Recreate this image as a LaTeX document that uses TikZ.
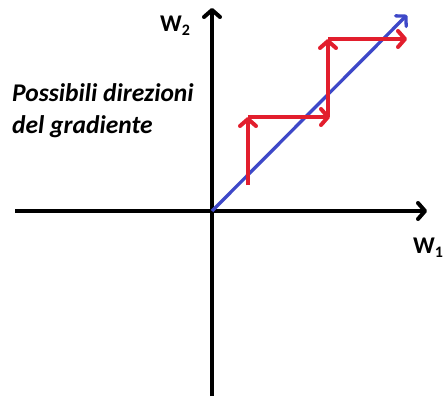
\documentclass[tikz,border=0pt]{standalone}
\usepackage{fontspec}
\setmainfont{Carlito}
\usetikzlibrary{arrows.meta}
\definecolor{stepred}{RGB}{226,30,45}
\definecolor{diagblue}{RGB}{62,72,200}
\tikzset{
    axisline/.style={line width=4pt, black, -{Straight Barb[length=7pt, width=16pt, round]}},
    stepline/.style={line width=4pt, stepred, -{Straight Barb[length=7pt, width=16pt, round]}},
    diagline/.style={line width=3.3pt, diagblue, -{Straight Barb[length=7pt, width=15pt, round]}},
    axislabel/.style={font=\bfseries\fontsize{24}{26}\selectfont, inner sep=0pt, anchor=base west},
    notelabel/.style={align=left, font=\bfseries\itshape\fontsize{25.5}{32}\selectfont, inner sep=0pt, anchor=base west}
}
\newcommand{\wlab}[1]{W\raisebox{-0.35ex}{\fontsize{16}{17}\selectfont #1}}
\begin{document}
\begin{tikzpicture}[x=1pt, y=-1pt]
            \useasboundingbox (0,0) rectangle (443,399);
            % axes
            \coordinate (O) at (212,211);
            \coordinate (xl) at (15,211);
            \coordinate (xr) at (427,211);
            \coordinate (yb) at (212,396);
            \coordinate (yt) at (212,8);
            \draw[axisline] (xl) -- (xr);
            \draw[axisline] (yb) -- (yt);
            \node[axislabel] (w1) at (413,253) {\wlab{1}};
            \node[axislabel] (w2) at (160,31) {\wlab{2}};

            % blue diagonal
            \coordinate (d) at (407,15);
            \draw[diagline] (O) -- (d);

            % red steps
            \coordinate (r0) at (248,185);
            \coordinate (r1) at (248,117);
            \coordinate (r2) at (330,117);
            \coordinate (r3) at (328,117);
            \coordinate (r4) at (328,39);
            \coordinate (r5) at (407,39);
            \draw[stepline] (r0) -- (r1);
            \draw[stepline] (r1) -- (r2);
            \draw[stepline] (r3) -- (r4);
            \draw[stepline] (r4) -- (r5);

            % text
            \node[notelabel] (note) at (12,133) {Possibili direzioni\\del gradiente};
        \end{tikzpicture}
\end{document}
